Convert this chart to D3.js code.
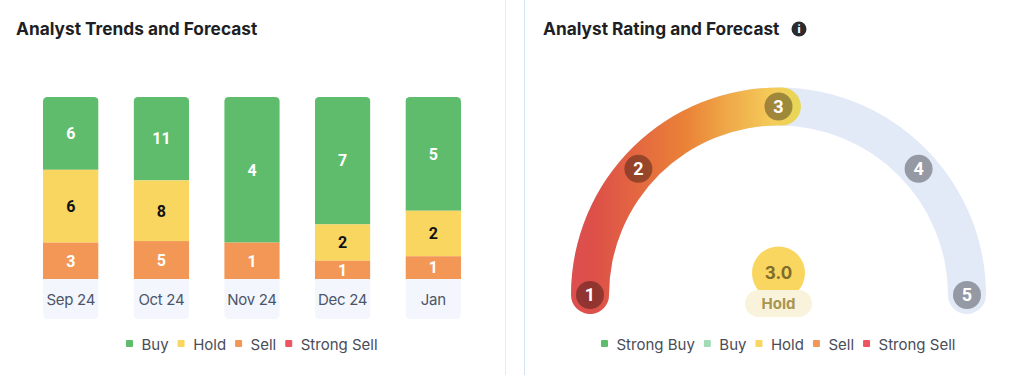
<!DOCTYPE html>
<html>
<head>
<meta charset="utf-8">
<script src="https://cdn.jsdelivr.net/npm/d3@7/dist/d3.min.js"></script>
<style>
  html, body { margin: 0; padding: 0; background: #fff; }
  svg { display: block; font-family: Inter, "Noto Sans", sans-serif; }
</style>
</head>
<body>
<svg id="chart" width="1024" height="375"></svg>
<script>
// Analyst trends (left panel)
const months = ["Sep 24", "Oct 24", "Nov 24", "Dec 24", "Jan"];
const buy = [6, 11, 4, 7, 5];
const hold = [6, 8, 0, 2, 2];
const sell = [3, 5, 1, 1, 1];
const strongSell = [0, 0, 0, 0, 0];
const trendSeries = ["Buy", "Hold", "Sell", "Strong Sell"];

// Analyst rating (right panel)
const ratingTicks = [1, 2, 3, 4, 5];
const ratingValue = 3.0;
const ratingLabel = "Hold";
const ratingLegend = ["Strong Buy", "Buy", "Hold", "Sell", "Strong Sell"];

const colors = {
    "Strong Buy": "#5FBC6C",
    "Buy": "#5FBC6C",
    "Hold": "#F8D660",
    "Sell": "#F29755",
    "Strong Sell": "#EE5560",
    title: "#1E1F24",
    legendText: "#4A4C57",
    tickText: "#4D5568",
    tickBox: "#F3F7FD",
    track: "#E2E9F7"
};

const digitFont = "Roboto, Inter, sans-serif";

const svg = d3.select("#chart");

// panel borders
svg.append("line").attr("x1", 505.5).attr("x2", 505.5).attr("y1", 0).attr("y2", 375).attr("stroke", "#E3EAF8");
svg.append("line").attr("x1", 524.5).attr("x2", 524.5).attr("y1", 0).attr("y2", 375).attr("stroke", "#D2E3F8");

function title(x, text) {
    return svg.append("text")
        .attr("x", x).attr("y", 35)
        .attr("font-size", 17.3)
        .attr("font-weight", 700)
        .attr("fill", colors.title)
        .text(text);
}

function legend(startX, names, swatch) {
    const g = svg.append("g").attr("font-size", 15).attr("fill", colors.legendText);
    let x = startX;
    names.forEach(name => {
        g.append("rect").attr("x", x).attr("y", 340).attr("width", 7).attr("height", 7)
            .attr("rx", 1).attr("fill", swatch(name));
        const t = g.append("text").attr("x", x + 15.5).attr("y", 349.5).text(name);
        x += 15.5 + t.node().getComputedTextLength() + 9;
    });
}

// ---- left panel: stacked bars ----
title(16, "Analyst Trends and Forecast");

const rows = months.map((m, i) => ({
    month: m, Buy: buy[i], Hold: hold[i], Sell: sell[i], "Strong Sell": strongSell[i]
}));

const stacked = d3.stack()
    .keys(trendSeries)
    .order(d3.stackOrderReverse)
    .offset(d3.stackOffsetExpand)(rows);

const x = d3.scaleBand().domain(months).range([43, 461]).paddingInner(0.387).paddingOuter(0);
const y = d3.scaleLinear().domain([0, 1]).range([279, 97]);
const boxBottom = 319;

// light box under each month label
svg.append("defs").selectAll("clipPath")
    .data(months)
    .enter().append("clipPath")
    .attr("id", (d, i) => `bar-clip-${i}`)
    .append("rect")
    .attr("x", d => x(d))
    .attr("y", y(1))
    .attr("width", x.bandwidth())
    .attr("height", boxBottom - y(1))
    .attr("rx", 4.5);

const barGroups = svg.selectAll(".bar")
    .data(months)
    .enter().append("g")
    .attr("class", "bar")
    .attr("clip-path", (d, i) => `url(#bar-clip-${i})`);

barGroups.append("rect")
    .attr("x", d => x(d))
    .attr("y", y(0))
    .attr("width", x.bandwidth())
    .attr("height", boxBottom - y(0))
    .attr("fill", colors.tickBox);

stacked.forEach(layer => {
    barGroups.append("rect")
        .attr("x", d => x(d))
        .attr("y", (d, i) => y(layer[i][1]))
        .attr("width", x.bandwidth())
        .attr("height", (d, i) => y(layer[i][0]) - y(layer[i][1]))
        .attr("fill", colors[layer.key]);

    svg.selectAll(null)
        .data(layer.filter(d => d.data[layer.key] > 0))
        .enter().append("text")
        .attr("x", d => x(d.data.month) + x.bandwidth() / 2)
        .attr("y", d => (y(d[0]) + y(d[1])) / 2)
        .attr("dy", "0.36em")
        .attr("text-anchor", "middle")
        .attr("font-family", digitFont)
        .attr("font-size", 16)
        .attr("font-weight", 700)
        .attr("fill", layer.key === "Hold" ? "#111" : "#fff")
        .text(d => d.data[layer.key]);
});

const xAxis = svg.append("g")
    .attr("transform", `translate(0,${y(0)})`)
    .call(d3.axisBottom(x).tickSize(0).tickPadding(15));
xAxis.select(".domain").remove();
xAxis.selectAll("text")
    .attr("font-family", "Inter, 'Noto Sans', sans-serif")
    .attr("font-size", 15)
    .attr("letter-spacing", -0.3)
    .attr("fill", colors.tickText);

legend(126, trendSeries, d => colors[d]);

// ---- right panel: gauge ----
title(543, "Analyst Rating and Forecast");

const info = svg.append("g").attr("transform", "translate(799,29)");
info.append("circle").attr("r", 7.5).attr("fill", "#2B2B2F");
info.append("text").attr("text-anchor", "middle").attr("dy", "0.36em")
    .attr("font-size", 11).attr("font-weight", 800).attr("fill", "#fff").text("i");

const cx = 778.5, cy = 295, radius = 188.5, band = 38;

// rating -> angle from the left end of the gauge (d3.arc: 0 = up)
const angle = d3.scaleLinear()
    .domain(ratingTicks)
    .range([-90, -48, 0, 48, 90].map(d => d * Math.PI / 180));

const gauge = svg.append("g").attr("transform", `translate(${cx},${cy})`);
const arc = d3.arc().innerRadius(radius - band / 2).outerRadius(radius + band / 2).cornerRadius(band / 2);

const grad = svg.select("defs").append("linearGradient")
    .attr("id", "gauge-grad")
    .attr("gradientUnits", "userSpaceOnUse")
    .attr("x1", -207).attr("x2", 22).attr("y1", 0).attr("y2", 0);
[[0, "#DD4F4F"], [0.1, "#DD5049"], [0.5, "#EB8237"], [0.68, "#EFA848"], [0.88, "#F5CC5A"], [1, "#E6D857"]]
    .forEach(s => grad.append("stop").attr("offset", s[0]).attr("stop-color", s[1]));

// caps stick out past the ends, so the arcs are drawn a bit longer
const capAngle = Math.asin((band / 2) / radius);
gauge.append("path")
    .attr("d", arc({ startAngle: angle(1) - capAngle, endAngle: angle(5) + capAngle }))
    .attr("fill", colors.track);
gauge.append("path")
    .attr("d", arc({ startAngle: angle(1) - capAngle, endAngle: angle(ratingValue) + capAngle + 0.018 }))
    .attr("fill", "url(#gauge-grad)");

const ticks = gauge.selectAll(".tick-mark")
    .data(ratingTicks)
    .enter().append("g")
    .attr("class", "tick-mark")
    .attr("transform", d => `translate(${radius * Math.sin(angle(d))},${-radius * Math.cos(angle(d))})`);
ticks.append("circle").attr("r", 14).attr("fill", "#000").attr("fill-opacity", 0.34);
ticks.append("text")
    .attr("text-anchor", "middle").attr("dy", "0.36em")
    .attr("font-family", digitFont)
    .attr("font-size", 18).attr("font-weight", 700).attr("fill", "#fff")
    .text(d => d);

// score badge
svg.append("circle").attr("cx", cx).attr("cy", 273).attr("r", 26.5).attr("fill", colors.Hold);
svg.append("text").attr("x", cx).attr("y", 273).attr("dy", "0.36em").attr("text-anchor", "middle")
    .attr("font-size", 17).attr("font-weight", 700).attr("fill", "#7F6C2C")
    .text(ratingValue.toFixed(1));
svg.append("rect").attr("x", 745).attr("y", 290).attr("width", 67).attr("height", 27).attr("rx", 13.5)
    .attr("fill", "#F9F3DC");
svg.append("text").attr("x", cx).attr("y", 304).attr("dy", "0.36em").attr("text-anchor", "middle")
    .attr("font-size", 15).attr("font-weight", 700).attr("fill", "#A8954F")
    .text(ratingLabel);

legend(601, ratingLegend, d => d === "Buy" ? "#A3DBB5" : colors[d]);
</script>
</body>
</html>
